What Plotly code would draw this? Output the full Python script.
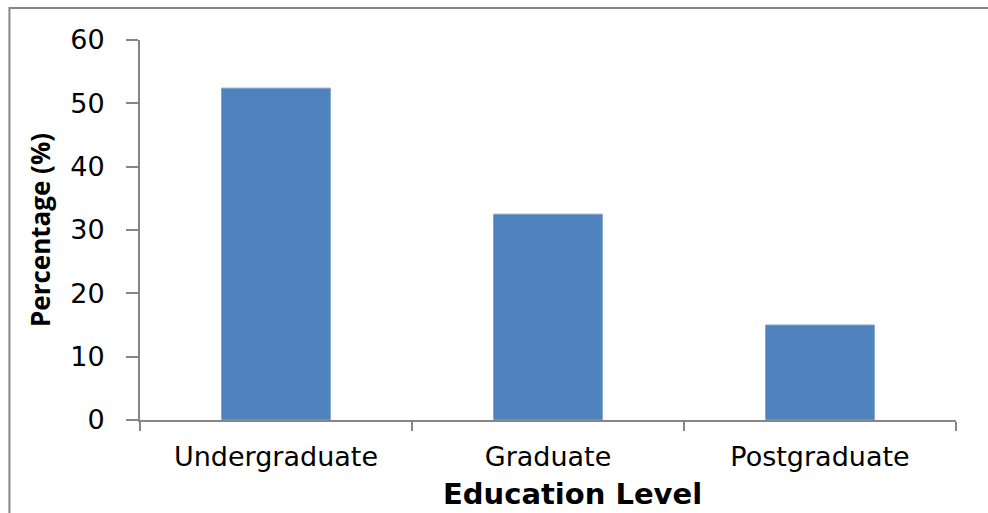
import plotly.graph_objects as go

categories = ["Undergraduate", "Graduate", "Postgraduate"]
percentages = [52.4, 32.5, 15.0]
y_ticks = [0, 10, 20, 30, 40, 50, 60]

fig = go.Figure()
fig.add_trace(go.Bar(
    x=categories, y=percentages,
    marker=dict(color="#4F81BD", line=dict(color="#7FA3D4", width=1)),
    width=0.4,
))

axis_col = "#868686"
fig.update_layout(
    width=988, height=513,
    margin=dict(l=140, r=32, t=40, b=93),
    paper_bgcolor="white", plot_bgcolor="white",
    showlegend=False,
    font=dict(family="DejaVu Sans", color="black"),
    xaxis=dict(
        showgrid=False, showline=True, linecolor=axis_col, linewidth=2,
        ticks="outside", tickson="boundaries", ticklen=9, tickcolor=axis_col, tickwidth=2,
        tickfont=dict(size=27, family="DejaVu Sans"),
        ticklabelstandoff=12,
    ),
    yaxis=dict(
        range=[0, 60], tickvals=y_ticks,
        showgrid=False, showline=True, linecolor=axis_col, linewidth=2,
        ticks="outside", ticklen=12, tickcolor=axis_col, tickwidth=2,
        tickfont=dict(size=27, family="DejaVu Sans"),
        ticklabelstandoff=16,
        zeroline=False,
    ),
    annotations=[
        dict(text="<b>Percentage (%)</b>", xref="paper", yref="paper",
             x=-100 / 816, y=0.5, xanchor="center", yanchor="middle",
             textangle=-90, showarrow=False,
             font=dict(size=26, family="Open Sans", color="black")),
        dict(text="<b>Education Level</b>", xref="paper", yref="paper",
             x=432 / 816, y=-74 / 380, xanchor="center", yanchor="middle",
             showarrow=False,
             font=dict(size=29, family="DejaVu Sans", color="black")),
    ],
    shapes=[dict(type="rect", xref="paper", yref="paper",
                 x0=-0.16, x1=1.2, y0=-0.5, y1=1.084,
                 line=dict(color=axis_col, width=2), layer="below")],
)
fig.write_html("out.html")
